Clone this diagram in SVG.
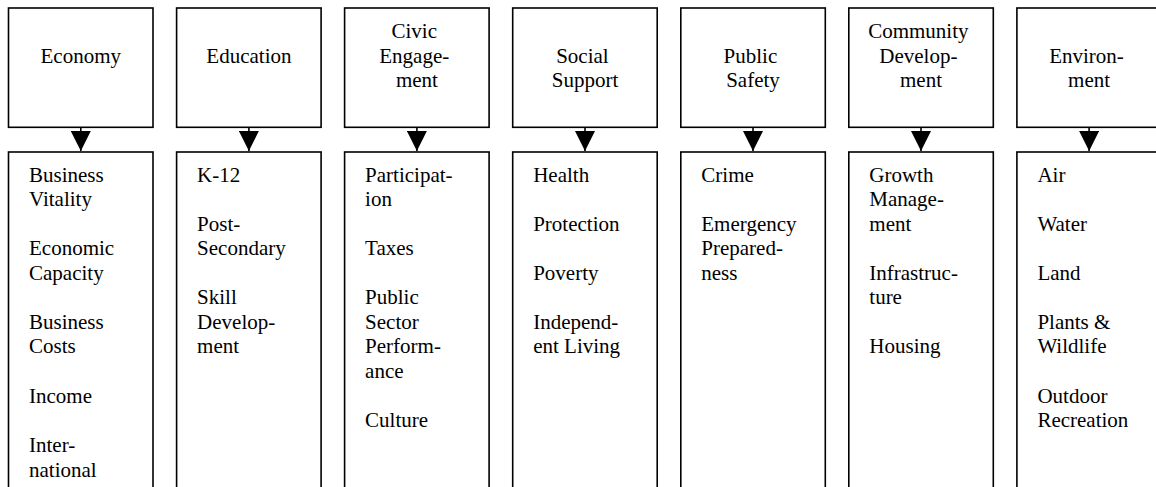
<svg xmlns="http://www.w3.org/2000/svg" width="1156" height="487" viewBox="0 0 1156 487">
  <style>
    .box { fill: #ffffff; stroke: #000000; stroke-width: 1.6; }
    .lbl { font-family: "Liberation Serif", "Times New Roman", serif; font-size: 21px; fill: #000000; }
    .hd { text-anchor: middle; }
    .conn { stroke: #000000; stroke-width: 1.6; fill: none; marker-end: url(#tri); }
  </style>
  <defs>
    <marker id="tri" markerUnits="userSpaceOnUse" viewBox="0 0 20 20" refX="20" refY="10" markerWidth="20" markerHeight="20" orient="auto">
      <path d="M0,0 L20,10 L0,20 Z" fill="#000000"/>
    </marker>
  </defs>

  <rect width="1156" height="487" fill="#ffffff"/>

  <!-- Economy -->
  <g id="economy">
    <rect class="box" x="8.5" y="8" width="144.5" height="119.3"/>
    <text class="lbl hd" x="80.8" y="62.6">Economy</text>
    <rect class="box" x="8.5" y="152" width="144.5" height="345"/>
    <text class="lbl" x="29">
      <tspan x="29" y="181.7">Business</tspan>
      <tspan x="29" y="206.2">Vitality</tspan>
      <tspan x="29" y="255.3">Economic</tspan>
      <tspan x="29" y="279.8">Capacity</tspan>
      <tspan x="29" y="328.9">Business</tspan>
      <tspan x="29" y="353.4">Costs</tspan>
      <tspan x="29" y="402.5">Income</tspan>
      <tspan x="29" y="451.6">Inter-</tspan>
      <tspan x="29" y="476.5">national</tspan>
    </text>
  </g>

  <!-- Education -->
  <g id="education">
    <rect class="box" x="176.6" y="8" width="144.5" height="119.3"/>
    <text class="lbl hd" x="248.9" y="62.6">Education</text>
    <rect class="box" x="176.6" y="152" width="144.5" height="345"/>
    <text class="lbl">
      <tspan x="197.1" y="181.7">K-12</tspan>
      <tspan x="197.1" y="230.8">Post-</tspan>
      <tspan x="197.1" y="255.3">Secondary</tspan>
      <tspan x="197.1" y="304.4">Skill</tspan>
      <tspan x="197.1" y="328.9">Develop-</tspan>
      <tspan x="197.1" y="353.4">ment</tspan>
    </text>
  </g>

  <!-- Civic Engagement -->
  <g id="civic-engagement">
    <rect class="box" x="344.6" y="8" width="144.5" height="119.3"/>
    <text class="lbl hd">
      <tspan x="416.9" y="37.6">Civic</tspan>
      <tspan x="416.9" y="62.6">Engage-</tspan>
      <tspan x="416.9" y="87.3">ment</tspan>
    </text>
    <rect class="box" x="344.6" y="152" width="144.5" height="345"/>
    <text class="lbl">
      <tspan x="365.1" y="181.7">Participat-</tspan>
      <tspan x="365.1" y="206.2">ion</tspan>
      <tspan x="365.1" y="255.3">Taxes</tspan>
      <tspan x="365.1" y="304.4">Public</tspan>
      <tspan x="365.1" y="328.9">Sector</tspan>
      <tspan x="365.1" y="353.4">Perform-</tspan>
      <tspan x="365.1" y="377.9">ance</tspan>
      <tspan x="365.1" y="427">Culture</tspan>
    </text>
  </g>

  <!-- Social Support -->
  <g id="social-support">
    <rect class="box" x="512.7" y="8" width="144.5" height="119.3"/>
    <text class="lbl hd">
      <tspan x="585" y="62.6">Social</tspan>
      <tspan x="585" y="87.3">Support</tspan>
    </text>
    <rect class="box" x="512.7" y="152" width="144.5" height="345"/>
    <text class="lbl">
      <tspan x="533.2" y="181.7">Health</tspan>
      <tspan x="533.2" y="230.8">Protection</tspan>
      <tspan x="533.2" y="279.8">Poverty</tspan>
      <tspan x="533.2" y="328.9">Independ-</tspan>
      <tspan x="533.2" y="353.4">ent Living</tspan>
    </text>
  </g>

  <!-- Public Safety -->
  <g id="public-safety">
    <rect class="box" x="680.8" y="8" width="144.5" height="119.3"/>
    <text class="lbl hd">
      <tspan x="753" y="62.6">Public</tspan>
      <tspan x="753" y="87.3">Safety</tspan>
    </text>
    <rect class="box" x="680.8" y="152" width="144.5" height="345"/>
    <text class="lbl">
      <tspan x="701.3" y="181.7">Crime</tspan>
      <tspan x="701.3" y="230.8">Emergency</tspan>
      <tspan x="701.3" y="255.3">Prepared-</tspan>
      <tspan x="701.3" y="279.8">ness</tspan>
    </text>
  </g>

  <!-- Community Development -->
  <g id="community-development">
    <rect class="box" x="848.8" y="8" width="144.5" height="119.3"/>
    <text class="lbl hd">
      <tspan x="921" y="37.6">Community</tspan>
      <tspan x="921" y="62.6">Develop-</tspan>
      <tspan x="921" y="87.3">ment</tspan>
    </text>
    <rect class="box" x="848.8" y="152" width="144.5" height="345"/>
    <text class="lbl">
      <tspan x="869.3" y="181.7">Growth</tspan>
      <tspan x="869.3" y="206.2">Manage-</tspan>
      <tspan x="869.3" y="230.8">ment</tspan>
      <tspan x="869.3" y="279.8">Infrastruc-</tspan>
      <tspan x="869.3" y="304.4">ture</tspan>
      <tspan x="869.3" y="353.4">Housing</tspan>
    </text>
  </g>

  <!-- Environment -->
  <g id="environment">
    <rect class="box" x="1016.9" y="8" width="144.5" height="119.3"/>
    <text class="lbl hd">
      <tspan x="1089.1" y="62.6">Environ-</tspan>
      <tspan x="1089.1" y="87.3">ment</tspan>
    </text>
    <rect class="box" x="1016.9" y="152" width="144.5" height="345"/>
    <text class="lbl">
      <tspan x="1037.4" y="181.7">Air</tspan>
      <tspan x="1037.4" y="230.8">Water</tspan>
      <tspan x="1037.4" y="279.8">Land</tspan>
      <tspan x="1037.4" y="328.9">Plants &amp;</tspan>
      <tspan x="1037.4" y="353.4">Wildlife</tspan>
      <tspan x="1037.4" y="402.5">Outdoor</tspan>
      <tspan x="1037.4" y="427">Recreation</tspan>
    </text>
  </g>

  <!-- Connectors: heading box to its item list -->
  <g id="connectors">
    <line class="conn" x1="80.8" y1="127.3" x2="80.8" y2="151"/>
    <line class="conn" x1="248.9" y1="127.3" x2="248.9" y2="151"/>
    <line class="conn" x1="416.9" y1="127.3" x2="416.9" y2="151"/>
    <line class="conn" x1="585" y1="127.3" x2="585" y2="151"/>
    <line class="conn" x1="753" y1="127.3" x2="753" y2="151"/>
    <line class="conn" x1="921" y1="127.3" x2="921" y2="151"/>
    <line class="conn" x1="1089.1" y1="127.3" x2="1089.1" y2="151"/>
  </g>
</svg>
